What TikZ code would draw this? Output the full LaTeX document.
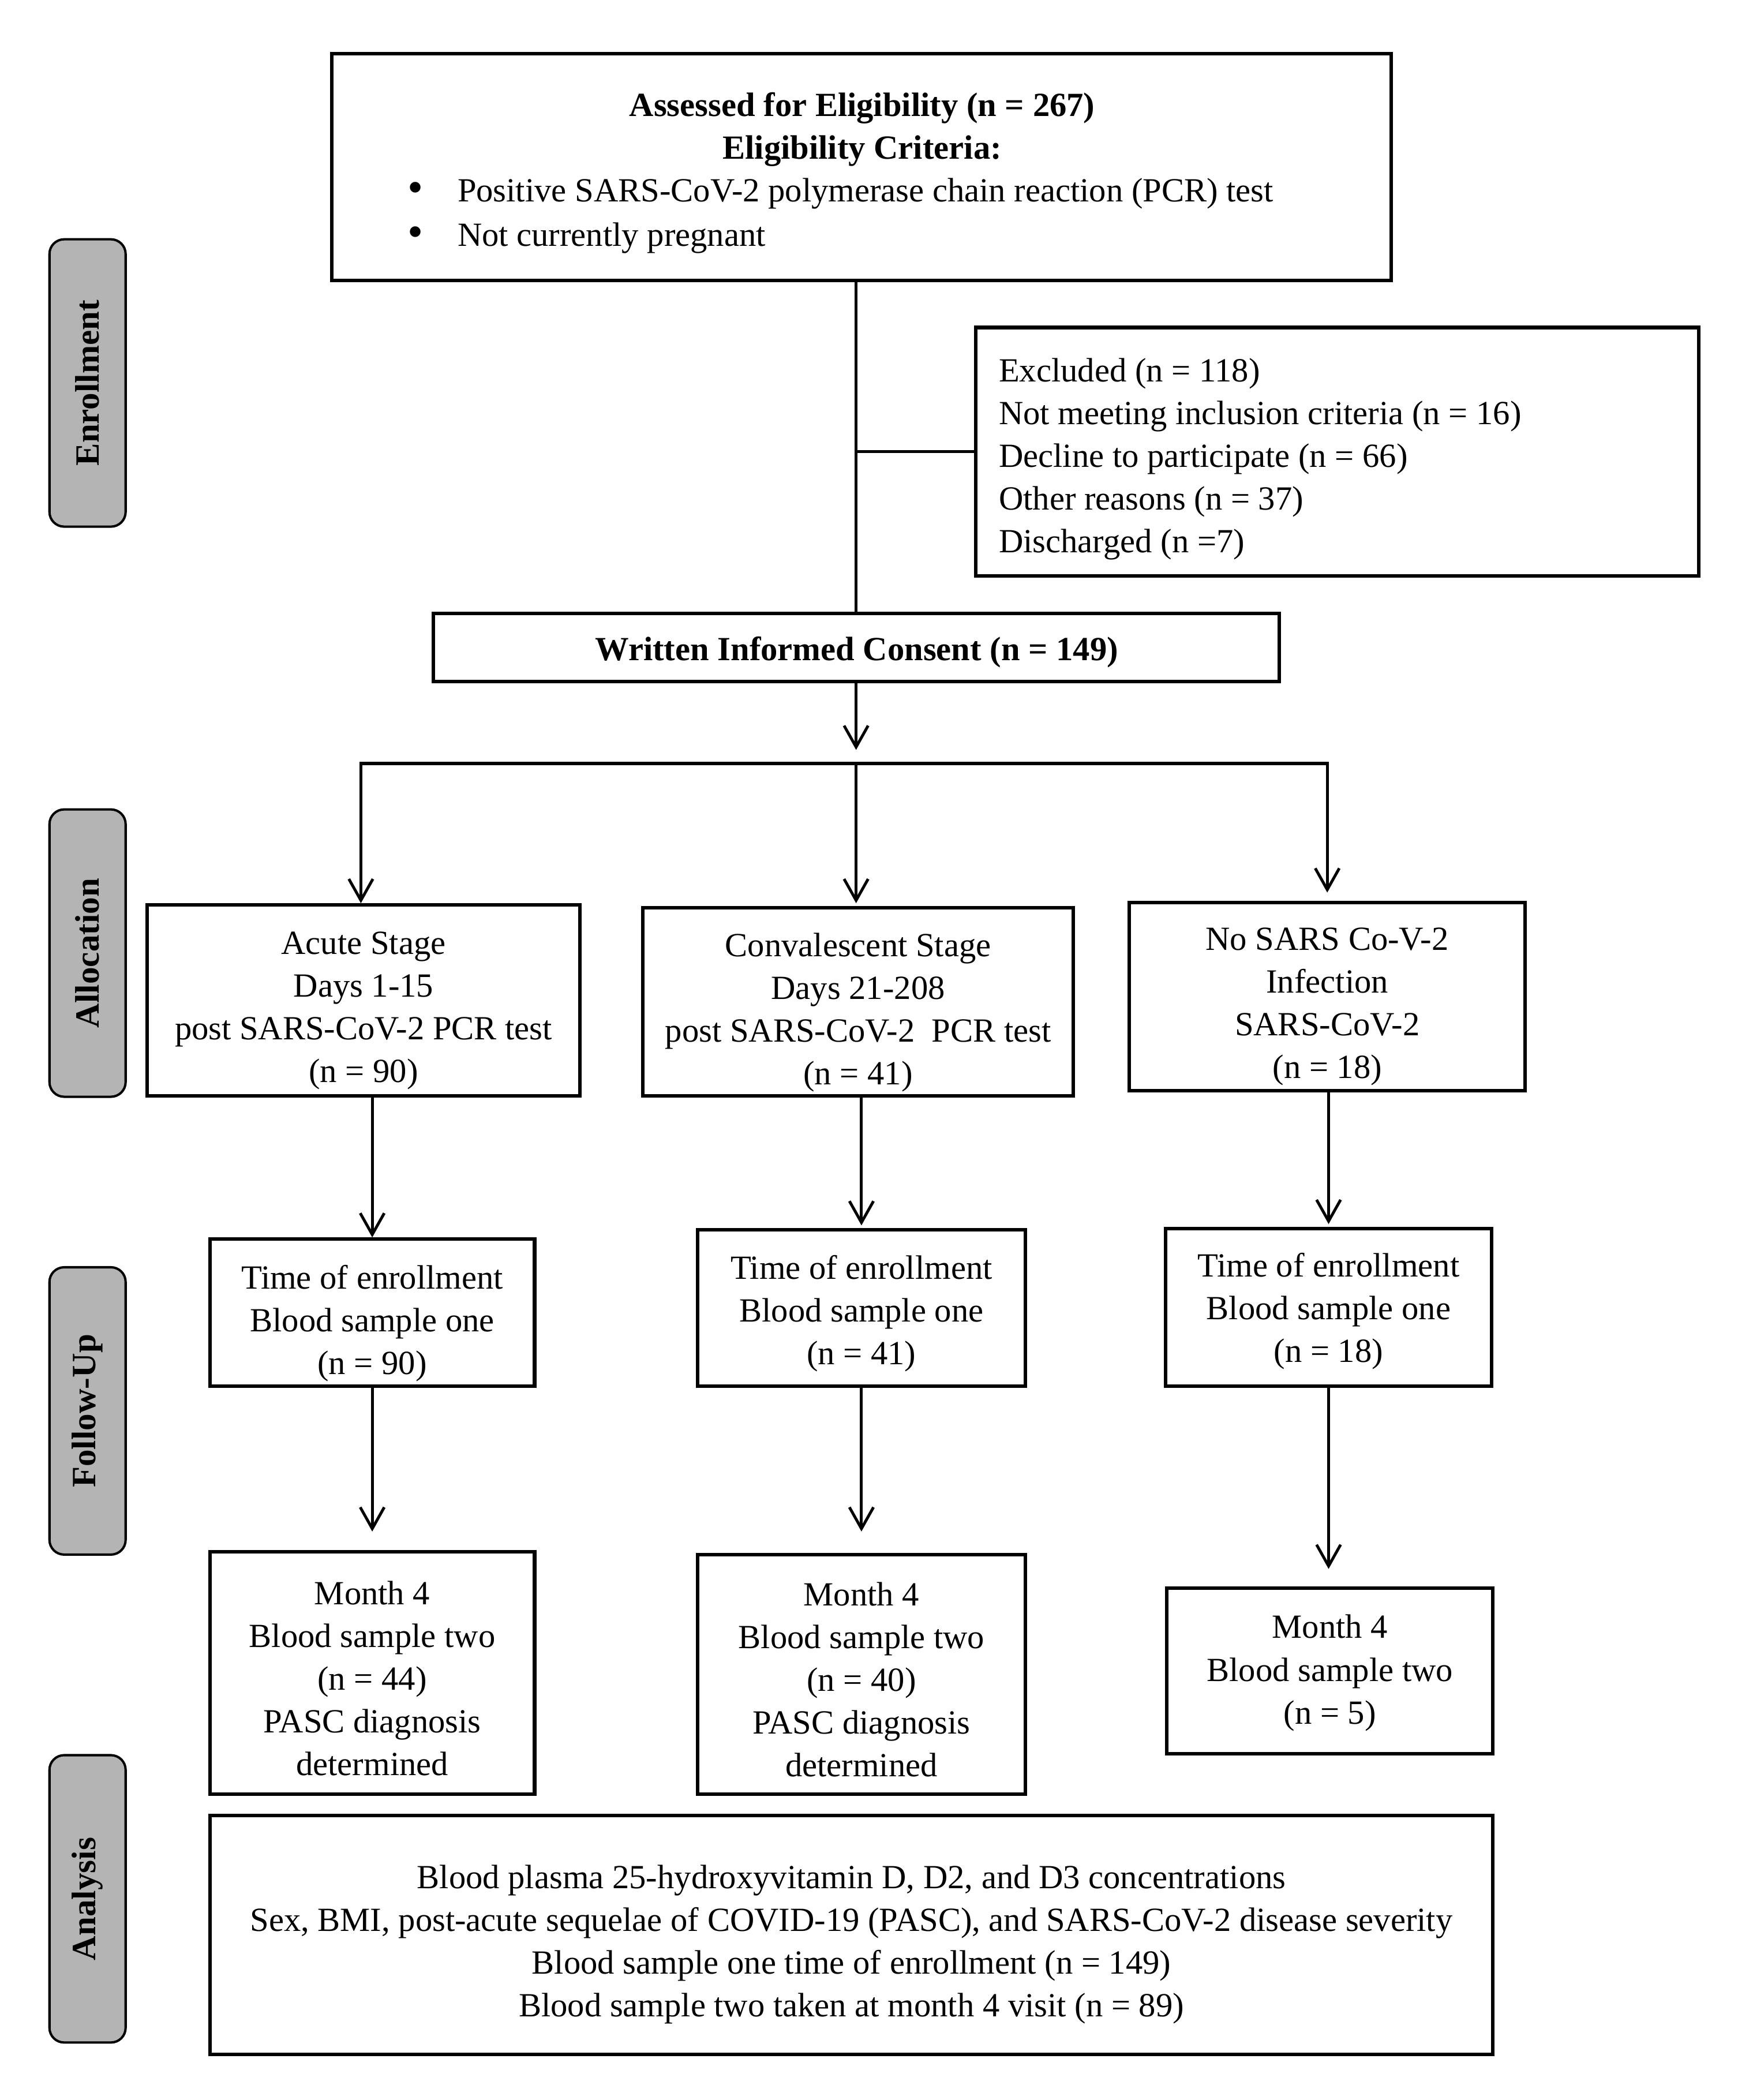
\documentclass[tikz,border=0pt]{standalone}
\usepackage{fontspec}
\setmainfont{Liberation Serif}
\usetikzlibrary{arrows.meta}
\definecolor{sidegray}{RGB}{180,180,180}
\newcommand{\mybody}{\fontsize{14.4}{18.2}\selectfont}
\newcommand{\mylabel}{\fontsize{14.5}{16}\selectfont\bfseries}
\begin{document}
\begin{tikzpicture}[x=0.02cm,y=-0.02cm,
  box/.style={draw=black,line width=1.5pt,inner sep=0pt},
  txt/.style={inner sep=0pt,align=center,font=\mybody},
  side/.style={draw=black,line width=1pt,fill=sidegray,rounded corners=0.22cm,rotate=90,
    minimum width=4.3cm,minimum height=1.14cm,inner sep=0pt,font=\mylabel},
  conn/.style={line width=1.2pt},
  hline/.style={line width=1.4pt,line cap=rect},
  arr/.style={line width=1.2pt,-{Straight Barb[length=0.32cm,width=0.36cm]}}
]
\useasboundingbox[fill=white] (0,0) rectangle (1300,1571);

% side labels
\node[side] (s1) at (65.5,286.5) {Enrollment};
\node[side] (s2) at (65.5,713) {Allocation};
\node[side] (s3) at (65.5,1055.5) {Follow-Up};
\node[side] (s4) at (65.5,1420.5) {Analysis};

% top box
\node[box,minimum width=15.86cm,minimum height=3.4cm] (top) at (644.5,125) {};
\node[txt,font=\mybody\bfseries] (t1) at (645,81) {Assessed for Eligibility (n = 267)};
\node[txt,font=\mybody\bfseries] (t2) at (645,113) {Eligibility Criteria:};
\node[txt,font=\fontsize{19}{19}\selectfont] (b1) at (311,144) {\textbullet};
\node[txt,anchor=west] (c1) at (342,145) {Positive SARS-CoV-2 polymerase chain reaction (PCR) test};
\node[txt,font=\fontsize{19}{19}\selectfont] (b2) at (311,177) {\textbullet};
\node[txt,anchor=west] (c2) at (342,178) {Not currently pregnant};

% excluded
\node[box,minimum width=10.82cm,minimum height=3.72cm] (excl) at (1000.5,338) {};
\node[txt,align=left,anchor=west] (exclT) at (747,343.5)
 {Excluded (n = 118)\\Not meeting inclusion criteria (n = 16)\\Decline to participate (n = 66)\\Other reasons (n = 37)\\Discharged (n =7)};

% consent
\node[box,minimum width=12.66cm,minimum height=1.02cm] (consent) at (640.5,484.5) {};
\node[txt,font=\mybody\bfseries] (consentT) at (641,488) {Written Informed Consent (n = 149)};

% allocation
\node[box,minimum width=6.48cm,minimum height=2.86cm] (acute) at (272,748.5) {};
\node[txt] (acuteT) at (272,756) {Acute Stage\\Days 1-15\\post SARS-CoV-2 PCR test\\(n = 90)};
\node[box,minimum width=6.44cm,minimum height=2.82cm] (conv) at (642,749.5) {};
\node[txt] (convT) at (642,757.5) {Convalescent Stage\\Days 21-208\\post SARS-CoV-2~~PCR test\\(n = 41)};
\node[box,minimum width=5.92cm,minimum height=2.82cm] (nosars) at (993,745.5) {};
\node[txt] (nosarsT) at (993,753) {No SARS Co-V-2\\Infection\\SARS-CoV-2\\(n = 18)};

% time of enrollment
\node[box,minimum width=4.86cm,minimum height=2.2cm] (toe1) at (278.5,982) {};
\node[txt] (toe1T) at (278.5,990) {Time of enrollment\\Blood sample one\\(n = 90)};
\node[box,minimum width=4.9cm,minimum height=2.34cm] (toe2) at (644.5,978.5) {};
\node[txt] (toe2T) at (644.5,982.5) {Time of enrollment\\Blood sample one\\(n = 41)};
\node[box,minimum width=4.88cm,minimum height=2.36cm] (toe3) at (994,978) {};
\node[txt] (toe3T) at (994,981) {Time of enrollment\\Blood sample one\\(n = 18)};

% month 4
\node[box,minimum width=4.86cm,minimum height=3.62cm] (m1) at (278.5,1251.5) {};
\node[txt] (m1T) at (278.5,1255.5) {Month 4\\Blood sample two\\(n = 44)\\PASC diagnosis\\determined};
\node[box,minimum width=4.9cm,minimum height=3.58cm] (m2) at (644.5,1252.5) {};
\node[txt] (m2T) at (644.5,1256.5) {Month 4\\Blood sample two\\(n = 40)\\PASC diagnosis\\determined};
\node[box,minimum width=4.88cm,minimum height=2.48cm] (m3) at (995,1250) {};
\node[txt] (m3T) at (995,1251.5) {Month 4\\Blood sample two\\(n = 5)};

% analysis
\node[box,minimum width=19.2cm,minimum height=3.58cm] (ana) at (637,1447.5) {};
\node[txt] (anaT) at (637,1454.5)
 {Blood plasma 25-hydroxyvitamin D, D2, and D3 concentrations\\
  Sex, BMI, post-acute sequelae of COVID-19 (PASC), and SARS-CoV-2 disease severity\\
  Blood sample one time of enrollment (n = 149)\\
  Blood sample two taken at month 4 visit (n = 89)};

% connectors
\draw[conn] (top.south -| consent.north) -- (consent.north);
\draw[conn] (consent.north |- excl.west) -- (excl.west);
\coordinate (split) at (640.5,571);
\coordinate (sl) at (270,571);
\coordinate (sr) at (993,571);
\draw[arr,shorten >=0.2cm] (consent.south) -- (split);
\draw[hline] (sl) -- (sr);
\draw[arr] (sl) -- (sl |- acute.north);
\draw[arr,shorten >=0.04cm] (split) -- (split |- conv.north);
\draw[arr,shorten >=0.12cm] (sr) -- (sr |- nosars.north);
\draw[arr] (toe1.north |- acute.south) -- (toe1.north);
\draw[arr,shorten >=0.04cm] (toe2.north |- conv.south) -- (toe2.north);
\draw[arr,shorten >=0.04cm] (toe3.north |- nosars.south) -- (toe3.north);
\draw[arr,shorten >=0.28cm] (toe1.south) -- (m1.north);
\draw[arr,shorten >=0.32cm] (toe2.south) -- (m2.north);
\draw[arr,shorten >=0.26cm] (toe3.south) -- (toe3.south |- m3.north);
\end{tikzpicture}
\end{document}
